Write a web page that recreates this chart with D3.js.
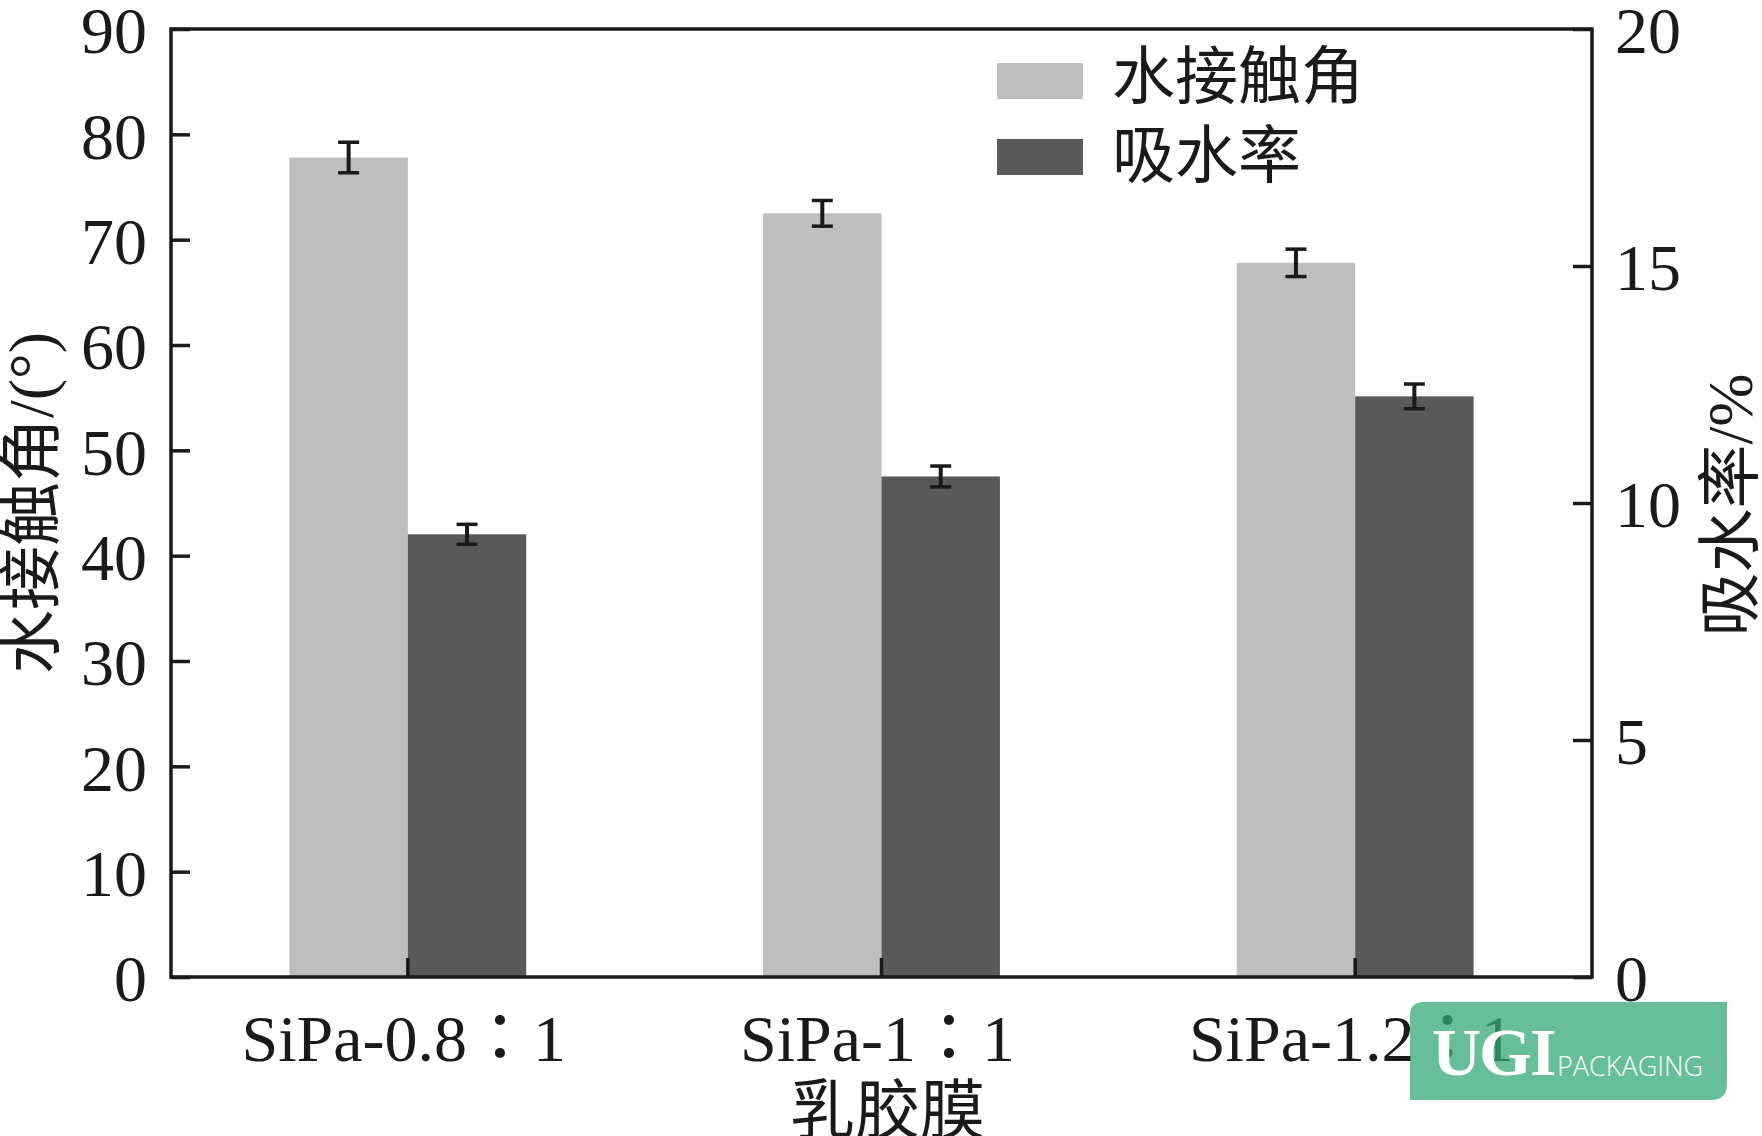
<!DOCTYPE html>
<html>
<head>
<meta charset="utf-8">
<script src="https://cdn.jsdelivr.net/npm/d3@7"></script>
<style>
  html, body { margin: 0; padding: 0; background: #fff; }
  svg { display: block; }
</style>
</head>
<body>
<svg id="chart" width="1762" height="1136"></svg>
<script>
// ---- data ----
const categories = ["SiPa-0.8：1", "SiPa-1：1", "SiPa-1.2：1"];
const seriesNames = ["水接触角", "吸水率"];
const contactAngle = [77.8, 72.5, 67.8];
const contactAngleErr = [1.45, 1.22, 1.3];
const waterAbsorption = [9.34, 10.56, 12.25];
const waterAbsorptionErr = [0.21, 0.22, 0.26];
const leftTicks = [0, 10, 20, 30, 40, 50, 60, 70, 80, 90];
const rightTicks = [0, 5, 10, 15, 20];
const xTitle = "乳胶膜";
const yLeftTitle = "水接触角/(°)";
const yRightTitle = "吸水率/%";

// ---- layout ----
const W = 1762, H = 1136;
const m = { left: 171, right: 1592, top: 29, bottom: 977 };
const colors = ["#bebebe", "#595959"];
const ink = "#1a1a1a";
const latin = "'Liberation Serif', 'Times New Roman', serif";
const cjk = "'Liberation Serif', 'Noto Sans CJK SC', sans-serif";
const cjkTC = "'Liberation Serif', 'Noto Sans CJK TC', sans-serif";

const svg = d3.select("#chart");

const x0 = d3.scaleBand().domain(categories).range([m.left, m.right])
  .paddingInner(0.5).paddingOuter(0.25);
const x1 = d3.scaleBand().domain([0, 1]).range([0, x0.bandwidth()]);
const yL = d3.scaleLinear().domain([0, 90]).range([m.bottom, m.top]);
const yR = d3.scaleLinear().domain([0, 20]).range([m.bottom, m.top]);

const rows = categories.map((c, i) => ({
  cat: c,
  vals: [
    { s: 0, v: contactAngle[i], e: contactAngleErr[i], y: yL },
    { s: 1, v: waterAbsorption[i], e: waterAbsorptionErr[i], y: yR }
  ]
}));

// bars
const g = svg.append("g");
const groups = g.selectAll("g.grp").data(rows).join("g")
  .attr("transform", d => `translate(${x0(d.cat)},0)`);
groups.selectAll("rect").data(d => d.vals).join("rect")
  .attr("x", d => x1(d.s))
  .attr("width", x1.bandwidth())
  .attr("y", d => d.y(d.v))
  .attr("height", d => m.bottom - d.y(d.v))
  .attr("fill", d => colors[d.s]);

// error bars
const capW = 21;
groups.selectAll("g.err").data(d => d.vals).join("g").each(function(d) {
  const cx = x1(d.s) + x1.bandwidth() / 2;
  const yt = d.y(d.v + d.e), yb = d.y(d.v - d.e);
  const e = d3.select(this);
  e.append("line").attr("x1", cx).attr("x2", cx).attr("y1", yt).attr("y2", yb)
    .attr("stroke", ink).attr("stroke-width", 4);
  [yt, yb].forEach(yy => e.append("line")
    .attr("x1", cx - capW / 2).attr("x2", cx + capW / 2)
    .attr("y1", yy).attr("y2", yy)
    .attr("stroke", ink).attr("stroke-width", 3.5));
});

// axes (inward ticks)
const tickLen = 19;
const axL = svg.append("g").attr("transform", `translate(${m.left},0)`)
  .call(d3.axisLeft(yL).tickValues(leftTicks).tickSize(-tickLen).tickPadding(24));
const axR = svg.append("g").attr("transform", `translate(${m.right},0)`)
  .call(d3.axisRight(yR).tickValues(rightTicks).tickSize(-tickLen).tickPadding(23));
const axB = svg.append("g").attr("transform", `translate(0,${m.bottom})`)
  .call(d3.axisBottom(x0).tickSize(-tickLen).tickPadding(36));
[axL, axR, axB].forEach(a => {
  a.select(".domain").remove();
  a.selectAll(".tick line").attr("stroke", ink).attr("stroke-width", 3.5);
  a.selectAll(".tick text").attr("fill", ink)
    .style("font-family", latin).style("font-size", "66px");
});
axL.selectAll(".tick text").attr("dy", "0.36em");
axR.selectAll(".tick text").attr("dy", "0.36em");
axB.selectAll(".tick text").attr("dy", "0.72em").attr("dx", -4).style("font-family", cjkTC);

// frame
svg.append("rect").attr("x", m.left).attr("y", m.top)
  .attr("width", m.right - m.left).attr("height", m.bottom - m.top)
  .attr("fill", "none").attr("stroke", ink).attr("stroke-width", 3.5);

// axis titles
svg.append("text").text(xTitle)
  .attr("x", (m.left + m.right) / 2 + 6).attr("y", 1133)
  .attr("text-anchor", "middle").attr("fill", ink)
  .style("font-family", cjk).style("font-size", "65px");
svg.append("text").text(yLeftTitle)
  .attr("transform", `translate(31,${(m.top + m.bottom) / 2}) rotate(-90)`)
  .attr("text-anchor", "middle").attr("dominant-baseline", "central").attr("fill", ink)
  .style("font-family", cjk).style("font-size", "64px");
svg.append("text").text(yRightTitle)
  .attr("transform", `translate(1730,${(m.top + m.bottom) / 2 + 2}) rotate(-90)`)
  .attr("text-anchor", "middle").attr("dominant-baseline", "central").attr("fill", ink)
  .style("font-family", cjk).style("font-size", "64px");

// legend
const leg = svg.append("g");
seriesNames.forEach((n, i) => {
  const cy = 81 + i * 76;
  leg.append("rect").attr("x", 997).attr("y", cy - 18).attr("width", 86).attr("height", 36)
    .attr("fill", colors[i]);
  leg.append("text").text(n).attr("x", 1112).attr("y", cy + 17 + i * 3)
    .attr("fill", ink).style("font-family", cjk).style("font-size", "63px");
});

// badge overlay (from the reference picture), semi-transparent so the label shows through
const badge = svg.append("g");
badge.append("path")
  .attr("d", "M1410,1016 Q1410,1002 1424,1002 L1727,1002 L1727,1084 Q1727,1100 1711,1100 L1410,1100 Z")
  .attr("fill", "#33aa76").attr("opacity", 0.75);
badge.append("text").text("UGI").attr("x", 1432).attr("y", 1075)
  .attr("fill", "#fff").style("font-family", latin).style("font-weight", "bold")
  .style("font-size", "68px").style("letter-spacing", "-2px");
badge.append("text").text("PACKAGING").attr("x", 1557).attr("y", 1076)
  .attr("fill", "#fff").style("font-family", "'Open Sans', sans-serif").style("font-weight", "300")
  .style("font-size", "27px");
</script>
</body>
</html>
